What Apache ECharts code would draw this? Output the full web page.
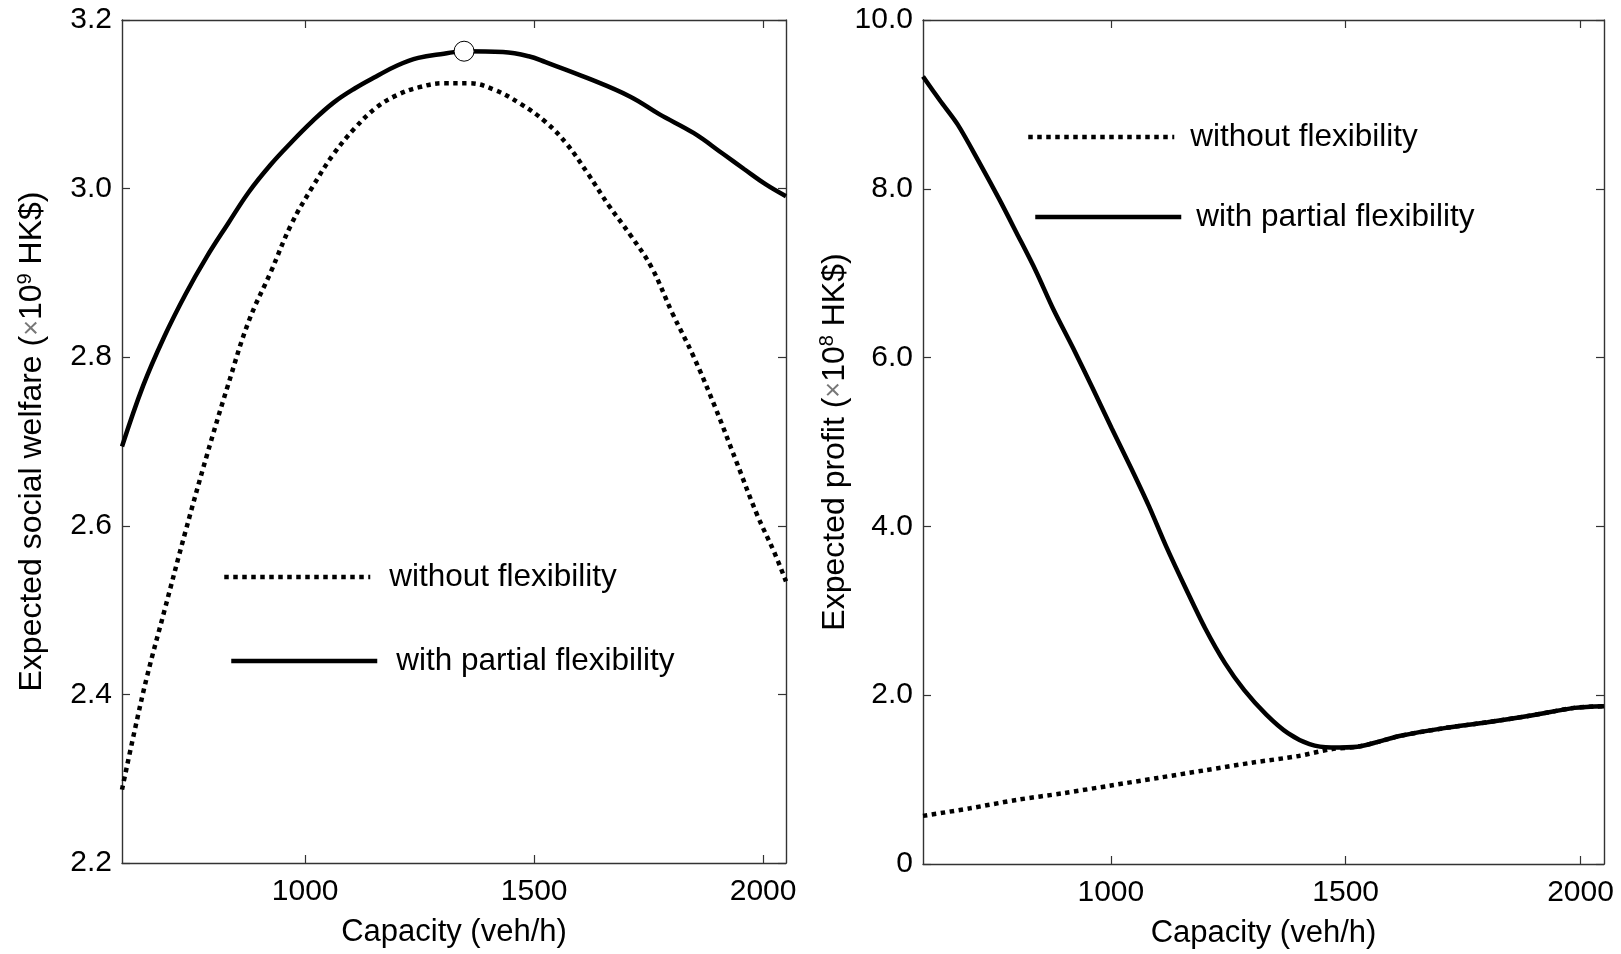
<!DOCTYPE html>
<html>
<head>
<meta charset="utf-8">
<title>Capacity vs welfare and profit</title>
<script src="https://cdn.jsdelivr.net/npm/echarts@6.0.0/dist/echarts.min.js"></script>
<style>
    html, body { margin: 0; padding: 0; background: #fff; }
    #main { width: 1621px; height: 954px; }
</style>
</head>
<body>
<div id="main"></div>
<script>
// left panel: expected social welfare (x10^9 HK$)
const welfareFlexCap = [600, 646, 692, 739, 785, 831, 877, 924, 970, 1016, 1062, 1109, 1155, 1201, 1247, 1303, 1347, 1432, 1488, 1525, 1617, 1710, 1774, 1848, 1913, 1959, 2006, 2050];
const welfareFlex = [2.694, 2.766, 2.824, 2.875, 2.919, 2.958, 2.996, 3.028, 3.055, 3.080, 3.102, 3.119, 3.133, 3.146, 3.155, 3.160, 3.163, 3.162, 3.157, 3.150, 3.131, 3.109, 3.088, 3.066, 3.041, 3.023, 3.005, 2.991];
const welfareNoFlexCap = [600, 628, 655, 692, 739, 785, 831, 877, 924, 970, 1016, 1062, 1109, 1155, 1201, 1247, 1303, 1358, 1414, 1469, 1525, 1571, 1617, 1663, 1710, 1756, 1802, 1848, 1895, 1941, 1987, 2024, 2050];
const welfareNoFlex = [2.287, 2.358, 2.422, 2.498, 2.594, 2.683, 2.766, 2.843, 2.900, 2.958, 3.002, 3.041, 3.072, 3.096, 3.111, 3.120, 3.125, 3.125, 3.117, 3.101, 3.079, 3.053, 3.018, 2.980, 2.945, 2.907, 2.852, 2.801, 2.741, 2.677, 2.613, 2.569, 2.534];
const welfareOptimum = [1347, 3.163];

// right panel: expected profit (x10^8 HK$)
const profitFlexCap = [600, 637, 674, 720, 762, 799, 840, 877, 919, 961, 1002, 1044, 1081, 1118, 1159, 1201, 1243, 1284, 1331, 1377, 1423, 1469, 1525, 1571, 1617, 1710, 1802, 1895, 1987, 2050];
const profitFlex = [9.33, 9.04, 8.76, 8.31, 7.88, 7.48, 7.03, 6.58, 6.12, 5.64, 5.16, 4.68, 4.24, 3.76, 3.27, 2.79, 2.38, 2.06, 1.77, 1.55, 1.42, 1.38, 1.39, 1.45, 1.52, 1.61, 1.68, 1.76, 1.85, 1.87];
const profitNoFlexCap = [600, 700, 800, 900, 1000, 1100, 1200, 1300, 1400, 1469, 1525, 1571, 1617, 1710, 1802, 1895, 1987, 2050];
const profitNoFlex = [0.57, 0.66, 0.76, 0.84, 0.93, 1.02, 1.11, 1.20, 1.28, 1.36, 1.39, 1.45, 1.52, 1.61, 1.68, 1.76, 1.85, 1.87];

// ticks
const capTicks = [1000, 1500, 2000];
const welfareTicks = [2.2, 2.4, 2.6, 2.8, 3.0, 3.2];
const profitTicks = [0, 2, 4, 6, 8, 10];

const NO_FLEX = 'without flexibility';
const FLEX = 'with partial flexibility';
const FONT = '"Liberation Sans", Arial, Helvetica, sans-serif';

function zip(xs, ys) {
    return xs.map((x, i) => [x, ys[i]]);
}

function capAxis(gridIndex, position, withLabels) {
    return {
        type: 'value',
        gridIndex: gridIndex,
        position: position,
        min: 600,
        max: 2050,
        name: withLabels ? 'Capacity (veh/h)' : '',
        nameLocation: 'middle',
        nameGap: 54,
        nameTextStyle: { fontFamily: FONT, fontSize: 31, color: '#000' },
        axisLine: { show: true, onZero: false, lineStyle: { color: '#333', width: 1.4 } },
        axisTick: { show: true, inside: true, length: 8, customValues: capTicks, lineStyle: { color: '#333', width: 1.2 } },
        axisLabel: {
            show: withLabels, customValues: capTicks, margin: 14,
            fontFamily: FONT, fontSize: 30, color: '#000',
            formatter: v => String(v)
        },
        splitLine: { show: false }
    };
}

function valAxis(gridIndex, position, min, max, ticks, withLabels, name, gap) {
    return {
        type: 'value',
        gridIndex: gridIndex,
        position: position,
        min: min,
        max: max,
        name: withLabels ? name : '',
        nameLocation: 'middle',
        nameGap: gap,
        nameRotate: 90,
        nameTextStyle: {
            fontFamily: FONT, fontSize: 32, color: '#000',
            rich: {
                t: { fontFamily: FONT, fontSize: 32, color: '#000' },
                x: { fontFamily: FONT, fontSize: 27, color: '#777' },
                s: { fontFamily: FONT, fontSize: 20, color: '#000', verticalAlign: 'bottom', padding: [0, 0, 15, 0] }
            }
        },
        axisLine: { show: true, onZero: false, lineStyle: { color: '#333', width: 1.4 } },
        axisTick: { show: true, inside: true, length: 8, customValues: ticks, lineStyle: { color: '#333', width: 1.2 } },
        axisLabel: {
            show: withLabels, customValues: ticks, margin: 10,
            fontFamily: FONT, fontSize: 30, color: '#000',
            formatter: v => (v === 0 ? '0' : v.toFixed(1))
        },
        splitLine: { show: false }
    };
}

function legendItem(name, left, centerY, line, gap) {
    return {
        data: [name],
        left: left,
        top: centerY - 16,
        padding: 0,
        orient: 'vertical',
        itemWidth: 146,
        itemHeight: 32,
        itemGap: 0,
        selectedMode: false,
        itemStyle: { opacity: 0 },
        lineStyle: line,
        textStyle: { fontFamily: FONT, fontSize: 31.5, color: '#000', lineHeight: 32, padding: [0, 0, 0, gap] }
    };
}

const dotted = { color: '#000', width: 4.5, type: [4.5, 4.5] };
const solid = { color: '#000', width: 4.5 };

const chart = echarts.init(document.getElementById('main'), null, { renderer: 'canvas' });
chart.setOption({
    animation: false,
    backgroundColor: '#fff',
    grid: [
        { left: 122, top: 20, width: 664, height: 843 },
        { left: 923, top: 20, width: 681, height: 848 }
    ],
    xAxis: [
        capAxis(0, 'bottom', true),
        capAxis(0, 'top', false),
        capAxis(1, 'bottom', true),
        capAxis(1, 'top', false)
    ],
    yAxis: [
        valAxis(0, 'left', 2.2, 3.2, welfareTicks, true, '{t|Expected social welfare (}{x|×}{t|10}{s|9}{t| HK$)}', 72),
        valAxis(0, 'right', 2.2, 3.2, welfareTicks, false, '', 0),
        valAxis(1, 'left', 0, 10, profitTicks, true, '{t|Expected profit (}{x|×}{t|10}{s|8}{t| HK$)}', 70),
        valAxis(1, 'right', 0, 10, profitTicks, false, '', 0)
    ],
    legend: [
        legendItem(NO_FLEX, 222, 577, dotted, 14),
        legendItem(FLEX, 229, 661, solid, 14),
        legendItem(NO_FLEX, 1026, 137, dotted, 11),
        legendItem(FLEX, 1033, 217, solid, 10)
    ],
    series: [
        {
            name: NO_FLEX, type: 'line', xAxisIndex: 0, yAxisIndex: 0,
            data: zip(welfareNoFlexCap, welfareNoFlex),
            smooth: 0.4, symbol: 'none', lineStyle: dotted
        },
        {
            name: FLEX, type: 'line', xAxisIndex: 0, yAxisIndex: 0,
            data: zip(welfareFlexCap, welfareFlex),
            smooth: 0.4, symbol: 'none', lineStyle: solid
        },
        {
            name: 'optimum', type: 'scatter', xAxisIndex: 0, yAxisIndex: 0,
            data: [welfareOptimum],
            symbol: 'circle', symbolSize: 20, z: 5,
            itemStyle: { color: '#fff', borderColor: '#000', borderWidth: 1, opacity: 1 }
        },
        {
            name: NO_FLEX, type: 'line', xAxisIndex: 2, yAxisIndex: 2,
            data: zip(profitNoFlexCap, profitNoFlex),
            smooth: 0.3, symbol: 'none', lineStyle: dotted
        },
        {
            name: FLEX, type: 'line', xAxisIndex: 2, yAxisIndex: 2,
            data: zip(profitFlexCap, profitFlex),
            smooth: 0.3, symbol: 'none', lineStyle: solid
        }
    ]
});
</script>
</body>
</html>
